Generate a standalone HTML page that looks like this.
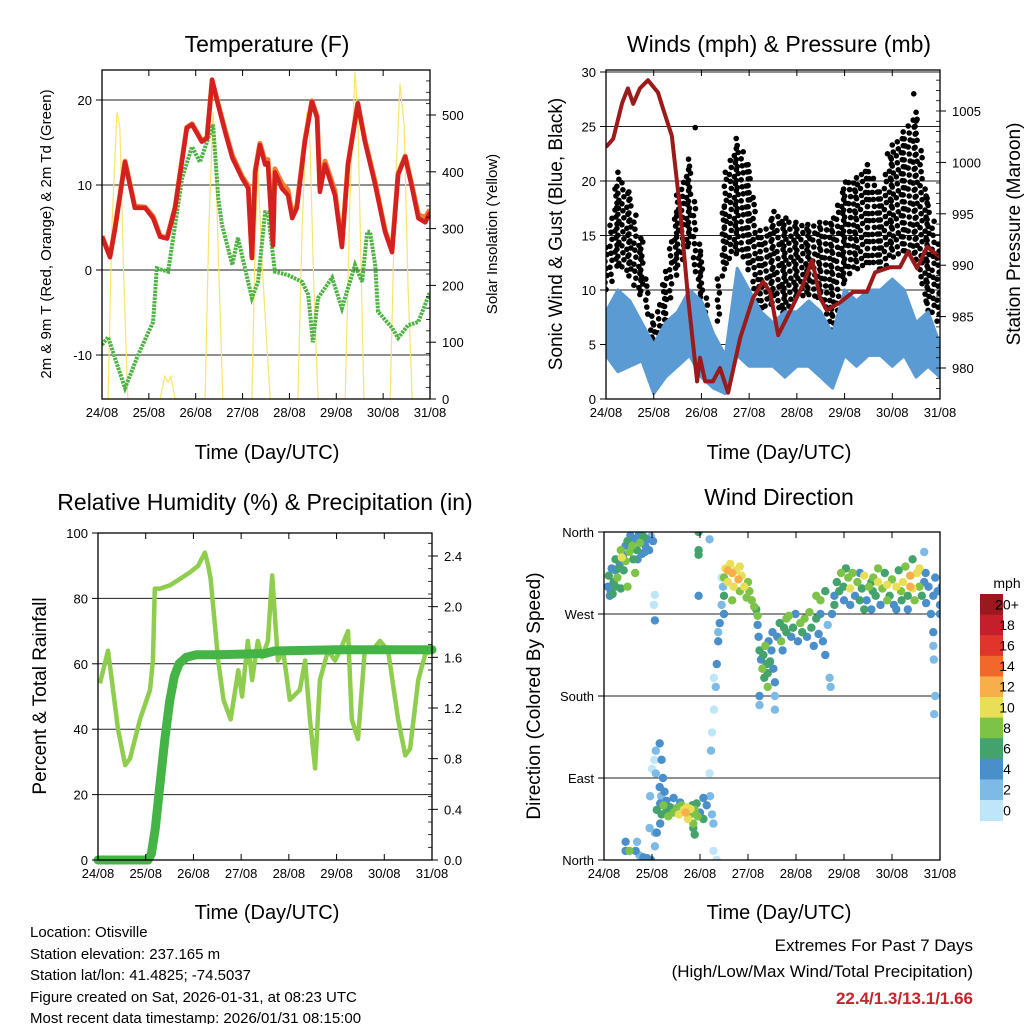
<!DOCTYPE html>
<html><head><meta charset="utf-8">
<style>
body{margin:0;background:#fff;}
svg text{font-family:"Liberation Sans",Arial,sans-serif;fill:#000;}
</style></head>
<body>
<svg id="s" width="1024" height="1024" viewBox="0 0 1024 1024" xmlns="http://www.w3.org/2000/svg">
<rect width="1024" height="1024" fill="#fff"/>
<g id="g"></g>
<text x="267" y="52" font-size="23" text-anchor="middle">Temperature (F)</text>
<text x="779" y="52" font-size="23" text-anchor="middle">Winds (mph) &amp; Pressure (mb)</text>
<text x="265" y="510" font-size="23" text-anchor="middle">Relative Humidity (%) &amp; Precipitation (in)</text>
<text x="779" y="505" font-size="23" text-anchor="middle">Wind Direction</text>
<text x="267" y="459" font-size="20" text-anchor="middle">Time (Day/UTC)</text>
<text x="779" y="459" font-size="20" text-anchor="middle">Time (Day/UTC)</text>
<text x="267" y="919" font-size="20" text-anchor="middle">Time (Day/UTC)</text>
<text x="779" y="919" font-size="20" text-anchor="middle">Time (Day/UTC)</text>
<text transform="translate(51,234) rotate(-90)" font-size="15" text-anchor="middle">2m &amp; 9m T (Red, Orange) &amp; 2m Td (Green)</text>
<text transform="translate(497,234) rotate(-90)" font-size="15" text-anchor="middle">Solar Insolation (Yellow)</text>
<text transform="translate(562,234) rotate(-90)" font-size="19" text-anchor="middle">Sonic Wind &amp; Gust (Blue, Black)</text>
<text transform="translate(1020,234) rotate(-90)" font-size="19" text-anchor="middle">Station Pressure (Maroon)</text>
<text transform="translate(46,696) rotate(-90)" font-size="19" text-anchor="middle">Percent &amp; Total Rainfall</text>
<text transform="translate(540,696) rotate(-90)" font-size="19" text-anchor="middle">Direction (Colored By Speed)</text>
<g font-size="15">
<text x="30" y="937">Location: Otisville</text>
<text x="30" y="959">Station elevation: 237.165 m</text>
<text x="30" y="980">Station lat/lon: 41.4825; -74.5037</text>
<text x="30" y="1002">Figure created on Sat, 2026-01-31, at 08:23 UTC</text>
<text x="30" y="1023">Most recent data timestamp: 2026/01/31 08:15:00</text>
</g>
<g text-anchor="end">
<text x="973" y="951" font-size="17">Extremes For Past 7 Days</text>
<text x="973" y="977" font-size="17">(High/Low/Max Wind/Total Precipitation)</text>
<text x="973" y="1004" font-size="17" font-weight="bold" style="fill:#c8232a">22.4/1.3/13.1/1.66</text>
</g>
</svg>
<script>
// ---------- DATA ----------
const dayLabels=["24/08","25/08","26/08","27/08","28/08","29/08","30/08","31/08"];
const tempTicks=[-10,0,10,20];
const solarTicks=[0,100,200,300,400,500];
const t2Time=[0,0.17,0.28,0.49,0.70,0.92,1.09,1.24,1.39,1.56,1.81,1.92,2.13,2.24,2.35,2.48,2.63,2.78,2.99,3.12,3.20,3.27,3.37,3.48,3.54,3.65,3.69,3.84,3.97,4.06,4.16,4.33,4.48,4.59,4.65,4.76,4.97,5.12,5.25,5.46,5.61,5.83,6.04,6.19,6.32,6.47,6.62,6.75,6.90,7.0];
const t2Val=[3.9,1.5,4.9,12.7,7.3,7.3,6.1,3.9,3.7,7.3,16.7,17.1,15.1,15.5,22.4,19.4,16.2,13.2,10.8,9.6,1.4,11.5,14.7,12.4,12.6,2.9,11.5,9.6,8.8,6.1,7.3,15.1,19.8,17.9,9.2,12.4,8.8,2.7,12.4,19.6,15.1,10.0,4.5,2.1,11.2,13.3,9.6,6.1,5.6,6.8];
const t9Val=[4.0,1.6,5.0,12.8,7.5,7.4,6.3,4.0,3.8,7.4,16.8,17.2,15.2,15.6,22.3,19.5,16.4,13.5,11.0,9.9,1.6,11.7,14.9,12.8,13.0,3.2,11.9,10.2,9.4,6.5,7.6,15.3,19.9,18.1,9.6,12.8,9.3,2.9,12.5,19.6,15.3,10.3,4.7,2.3,11.3,13.4,9.8,6.5,6.2,7.1];
const tdTime=[0,0.13,0.28,0.49,0.77,1.09,1.17,1.41,1.71,1.92,2.09,2.37,2.48,2.56,2.78,2.90,3.20,3.33,3.48,3.54,3.69,3.97,4.27,4.40,4.50,4.61,4.91,5.12,5.40,5.55,5.66,5.72,5.83,5.89,6.19,6.32,6.53,6.75,7.0];
const tdVal=[-8.8,-7.9,-10.4,-13.9,-10,-6.1,0.2,-0.2,10.8,14.5,12.7,17.1,8.5,5.3,0.6,3.8,-3.3,-1.4,6.8,6.8,-0.2,-0.6,-1.4,-2.9,-8.5,-3.3,-0.9,-4.5,0.6,-1.4,4.5,4.5,0.6,-4.9,-6.8,-8,-6.5,-6.1,-2.6];
const solarTime=[0,0.13,0.21,0.32,0.38,0.47,0.55,1.24,1.34,1.41,1.47,1.56,2.20,2.28,2.37,2.43,2.52,2.58,3.20,3.27,3.33,3.41,3.50,3.59,4.18,4.27,4.37,4.44,4.52,4.61,5.19,5.29,5.40,5.46,5.55,5.59,6.15,6.25,6.36,6.45,6.53,6.62,7.0];
const solarVal=[0,0,300,505,480,200,0,0,40,30,40,0,0,300,505,400,150,0,0,280,410,250,120,0,0,300,505,450,200,0,0,350,576,500,150,0,0,350,555,480,200,0,0];

const windTicks=[0,5,10,15,20,25,30];
const presTicks=[980,985,990,995,1000,1005];
const presTime=[0,0.15,0.34,0.46,0.57,0.71,0.88,1.09,1.19,1.38,1.55,1.72,1.91,1.97,2.08,2.24,2.39,2.56,2.81,3.08,3.29,3.44,3.61,3.92,4.13,4.32,4.49,4.63,4.91,5.18,5.47,5.64,5.95,6.16,6.33,6.52,6.73,6.86,7.0];
const presVal=[1001.5,1002.3,1005.8,1007.2,1005.7,1007.2,1008,1006.8,1005.3,1002.6,995.5,986.8,978.7,981,978.7,978.7,980,977.6,982.9,986.8,988.4,987.4,983.2,986.1,988.1,990.5,986.8,985.6,986.4,987.4,987.4,989.3,989.8,989.8,991.3,989.7,991.8,991.3,990.8];
const windTime=[0,0.25,0.5,0.75,1,1.25,1.5,1.75,2,2.25,2.5,2.75,3,3.25,3.5,3.75,4,4.25,4.5,4.75,5,5.25,5.5,5.75,6,6.25,6.5,6.75,7];
const windHi=[8,10,9,7,5,7,8,10,9,6,4,12,10,8,7,8,8,9,8,6,10,9,10,10,11,10,7,8,5];
const windLo=[4,2.5,3,3.5,0.5,2,3,4,2,1,0.5,4,3,3,3,2,3,3,2,1,4,3,4,4,3,4,2,3,2];
const gustHi=[13.9,20.8,19,14.4,6.8,11.7,18.7,22,13.2,4.3,20.8,23.9,21.5,14.8,17.2,16.6,16.2,16,16.2,16.6,19.9,20.3,21.5,19,23.3,24.5,26.3,18.4,13.9];
const gustLo=[9.5,12.3,11,9.3,4.3,6.8,11.7,13.9,7.1,3.1,12.3,13.5,11.7,7.7,8.6,7.4,9.3,9.3,8.6,6.1,10.7,11.7,12.3,11.7,12.9,13.5,12.3,8,6.8];
const gustOutTime=[1.87,6.45,0.26,5.9,6.5];
const gustOutVal=[24.9,28,17.5,22.5,25.5];

const rhTicks=[0,20,40,60,80,100];
const precipTicks=[0.0,0.4,0.8,1.2,1.6,2.0,2.4];
const rhTime=[0.04,0.21,0.29,0.42,0.57,0.67,0.88,1.09,1.15,1.19,1.30,1.51,1.72,1.93,2.10,2.24,2.31,2.36,2.52,2.63,2.78,2.94,3.02,3.14,3.23,3.35,3.44,3.56,3.65,3.77,3.88,4.02,4.23,4.34,4.44,4.55,4.65,4.82,4.97,5.07,5.24,5.32,5.45,5.59,5.74,5.91,6.08,6.29,6.44,6.54,6.71,6.86,7.0];
const rhVal=[54,64,55,40,29,31,43,52,61,83,83,84,86,88,90,94,90,86,61,49,43,58,50,67,55,67,62,67,87,61,64,49,52,61,43,28,55,64,61,64,70,43,37,64,64,67,64,43,32,34,55,63,64];
const prTime=[0,1.05,1.12,1.2,1.3,1.4,1.5,1.6,1.7,1.85,2.05,2.5,3.5,3.7,5,7];
const prVal=[0,0,0.05,0.25,0.6,0.95,1.25,1.45,1.55,1.6,1.62,1.62,1.63,1.65,1.66,1.66];

const dirLabels=["North","East","South","West","North"];
const dirTicks=[0,90,180,270,360];
const spdLabels=["0","2","4","6","8","10","12","14","16","18","20+"];
const spdColors=["#bfe6f8","#7dbbe6","#4a8fc9","#44a26c","#7cc348","#e8df57","#f8ae4a","#f0682b","#e0352b","#c41f2a","#9a181e"];
const dirPts=[[0.08,300,4],[0.10,312,6],[0.14,295,4],[0.16,320,4],[0.20,305,6],[0.24,318,4],[0.24,330,6],[0.28,310,8],[0.33,325,4],[0.35,340,8],[0.37,332,10],[0.41,318,6],[0.45,345,4],[0.45,328,8],[0.49,350,6],[0.53,338,8],[0.55,356,4],[0.59,345,8],[0.61,330,6],[0.65,352,4],[0.65,315,8],[0.69,340,6],[0.73,357,4],[0.75,348,8],[0.79,336,4],[0.82,355,6],[0.86,345,4],[0.90,352,4],[0.94,340,4],[0.98,355,2],[1.02,350,4],[0.24,300,6],[0.35,298,6],[0.49,300,8],[1.06,291,0],[1.06,263,4],[1.04,280,0],[0.12,290,4],[0.18,292,6],[0.3,320,6],[0.4,335,4],[0.7,330,4],[0.85,338,4],
[0.45,20,4],[0.45,10,4],[0.53,10,8],[0.66,10,4],[0.69,20,2],[0.74,5,2],[0.79,0,2],[0.82,3,4],[0.90,2,4],[0.98,0,4],[1.06,15,2],[1.06,30,2],[0.95,35,2],
[0.96,70,2],[1.0,100,0],[1.05,110,0],[1.08,120,2],[1.08,95,2],[1.16,128,4],[1.2,110,4],[1.23,90,4],[1.16,80,4],[1.19,70,2],[1.23,60,4],[1.26,75,4],[1.3,65,4],
[1.1,55,6],[1.17,62,4],[1.2,50,6],[1.24,60,8],[1.31,55,6],[1.34,48,8],[1.38,58,6],[1.45,52,8],[1.52,57,8],[1.56,50,10],[1.61,60,8],[1.66,55,10],[1.70,52,12],[1.73,58,10],[1.75,45,10],[1.80,50,8],[1.84,60,6],[1.89,55,8],[1.93,62,6],[2.0,52,4],[2.07,68,4],[2.14,60,4],[2.21,70,2],[2.25,50,2],[2.28,40,2],[1.86,35,6],[1.89,28,6],[1.86,40,8],[2.28,10,0],[2.35,0,0],[1.45,68,4],[1.17,40,4],[1.1,30,4],[1.59,63,4],[2.07,45,6],[1.8,56,10],[1.95,48,8],
[2.2,95,0],[2.23,120,2],[2.25,140,0],[2.29,165,0],[2.33,190,2],[2.35,215,4],[2.38,240,4],[2.41,260,4],[2.45,280,2],[2.48,300,2],[2.45,310,0],[2.5,270,4],[2.29,200,0],[2.38,250,2],
[1.97,360,6],[1.97,340,6],[1.97,335,6],[1.97,290,4],[2.2,352,2],
[2.5,310,8],[2.53,320,10],[2.58,305,10],[2.63,325,10],[2.67,315,12],[2.7,300,10],[2.75,318,10],[2.8,308,12],[2.83,295,8],[2.87,312,10],[2.92,300,10],[2.97,288,8],[3.0,305,8],[3.03,295,8],[3.08,285,8],[3.13,278,8],[3.17,275,6],[3.2,268,8],[2.5,290,6],[2.67,285,8],[2.83,322,10],[2.58,318,12],
[3.2,258,4],[3.22,245,4],[3.24,230,6],[3.27,220,4],[3.3,210,8],[3.32,225,6],[3.34,200,6],[3.36,235,8],[3.39,215,6],[3.41,205,6],[3.43,240,4],[3.46,218,6],[3.49,230,4],[3.51,250,4],[3.53,210,4],[3.56,195,4],[3.61,245,4],[3.66,260,6],[3.69,240,8],[3.72,230,4],[3.75,255,6],[3.8,265,8],[3.24,180,4],[3.24,170,2],[3.41,190,8],[3.56,180,2],[3.56,165,2],
[3.8,250,6],[3.85,268,8],[3.9,245,4],[3.94,255,6],[3.99,270,4],[4.04,240,4],[4.09,260,8],[4.13,250,6],[4.18,265,8],[4.23,245,4],[4.28,272,8],[4.32,255,6],[4.37,235,4],[4.42,265,6],[4.47,248,4],[4.51,270,4],[4.56,240,4],[4.61,225,4],[4.66,258,2],[4.7,200,2],[4.72,190,2],[4.75,270,4],[4.8,280,6],[4.61,295,6],[4.51,285,8],[4.42,290,8],
[4.8,290,4],[4.85,305,6],[4.9,295,6],[4.94,315,8],[4.99,300,6],[5.04,320,6],[5.09,310,8],[5.13,298,10],[5.18,315,8],[5.23,290,4],[5.28,305,8],[5.33,285,6],[5.37,298,6],[5.42,312,10],[5.47,285,4],[5.52,300,8],[5.57,275,4],[5.61,310,8],[5.66,290,6],[5.71,305,10],[5.76,280,4],[5.8,298,8],[5.85,315,6],[5.9,302,10],[5.95,290,6],[6.0,308,8],[6.04,280,4],[6.09,300,10],[6.14,318,6],[6.19,295,8],[6.23,305,10],[6.28,322,8],[6.33,290,6],[6.38,312,12],[6.43,298,10],[6.47,285,8],[6.52,315,10],[6.57,300,8],[6.62,290,6],[6.67,305,4],[6.71,282,4],[6.76,300,4],[6.81,270,4],[6.86,290,4],[6.9,310,4],[6.95,295,4],[7.0,280,4],[7.04,300,4],[5.71,320,8],[5.33,315,4],[5.13,280,4],[6.09,275,4],[6.33,275,4],[5.42,275,6],[5.57,305,6],[5.9,285,8],[6.57,320,10],[6.38,300,12],[6.43,330,6],[6.67,338,2],[6.86,250,4],[6.86,235,2],[6.9,180,2],[6.88,160,2],[6.87,220,2],[7.0,270,4],[5.0,285,4],[5.6,295,6],[6.2,285,6],[6.7,315,4]];

// ---------- HELPERS ----------
const NS="http://www.w3.org/2000/svg";
const G=document.getElementById('g');
function mk(tag,attrs,parent){const e=document.createElementNS(NS,tag);for(const k in attrs)e.setAttribute(k,attrs[k]);(parent||G).appendChild(e);return e;}
function lin(d0,d1,r0,r1){return v=>r0+(v-d0)/(d1-d0)*(r1-r0);}
function pathOf(xs,ys,xf,yf){return xs.map((t,i)=>(i?'L':'M')+xf(t).toFixed(1)+','+yf(ys[i]).toFixed(1)).join('');}

function frame(P,name){
  const r=mk('rect',{x:P.x0,y:P.y0,width:P.x1-P.x0,height:P.y1-P.y0,fill:'none',stroke:'#000','stroke-width':1.3});
  
  
  dayLabels.forEach((lb,i)=>{
    const x=P.xf(i);
    mk('line',{x1:x,x2:x,y1:P.y1,y2:P.y1-6,stroke:'#000'});
    mk('line',{x1:x,x2:x,y1:P.y0,y2:P.y0+6,stroke:'#000'});
    const t=mk('text',{x:x,y:P.y1+18,'font-size':13,'text-anchor':'middle'});
    t.textContent=lb;
    
    
  });
}
function grid(P,ticks,yf){ticks.forEach(v=>{const y=yf(v);if(y>P.y0+1&&y<P.y1-1)mk('line',{x1:P.x0,x2:P.x1,y1:y,y2:y,stroke:'#222','stroke-width':1});});}
function leftTicks(P,ticks,yf,labels,name){ticks.forEach((v,i)=>{const y=yf(v);mk('line',{x1:P.x0-6,x2:P.x0,y1:y,y2:y,stroke:'#000'});
  const t=mk('text',{x:P.x0-10,y:y+5,'font-size':13,'text-anchor':'end'});t.textContent=labels?labels[i]:v;
  
  });}
function rightTicks(P,ticks,yf,fmt,name,minorStep){
  if(minorStep){const lo=yf.inv(P.y1),hi=yf.inv(P.y0);const a=Math.min(lo,hi),b=Math.max(lo,hi);
    for(let v=Math.ceil(a/minorStep)*minorStep;v<=b;v+=minorStep){const y=yf(v);mk('line',{x1:P.x1,x2:P.x1-4,y1:y,y2:y,stroke:'#000','stroke-width':0.8});}}
  ticks.forEach(v=>{const y=yf(v);mk('line',{x1:P.x1,x2:P.x1+6,y1:y,y2:y,stroke:'#000'});
  const t=mk('text',{x:P.x1+12,y:y+5,'font-size':13});t.textContent=fmt(v);
  
  });}
function clip(P,id){const c=mk('clipPath',{id:id});mk('rect',{x:P.x0,y:P.y0,width:P.x1-P.x0,height:P.y1-P.y0},c);return 'url(#'+id+')';}

// ---------- PANEL 1: TEMPERATURE ----------
const P1={x0:102,x1:430,y0:70,y1:399};P1.xf=lin(0,7,P1.x0,P1.x1);
const tY=lin(0,20,270,100);
const sY=lin(0,500,399,115);sY.inv=lin(399,115,0,500);
grid(P1,tempTicks,tY);
const c1=clip(P1,'c1');
const g1=mk('g',{'clip-path':c1});
let e;
e=mk('path',{d:pathOf(solarTime,solarVal,P1.xf,sY),fill:'none',stroke:'#fbe36b','stroke-width':1.2},g1);


e=mk('path',{d:pathOf(tdTime,tdVal,P1.xf,tY),fill:'none',stroke:'#4db342','stroke-width':4,'stroke-dasharray':'2.5 1'},g1);


e=mk('path',{d:pathOf(t2Time,t9Val,P1.xf,tY),fill:'none',stroke:'#f07d2a','stroke-width':5,'stroke-linejoin':'round'},g1);


e=mk('path',{d:pathOf(t2Time,t2Val,P1.xf,tY),fill:'none',stroke:'#d42020','stroke-width':4.5,'stroke-linejoin':'round'},g1);


frame(P1,'temp');
leftTicks(P1,tempTicks,tY,null,'temp');
rightTicks(P1,solarTicks,sY,v=>v,'solar',20);

// ---------- PANEL 2: WINDS ----------
const P2={x0:606,x1:940,y0:70,y1:399};P2.xf=lin(0,7,P2.x0,P2.x1);
const wY=lin(0,30,399,72);
const pY=lin(980,1005,368,111);pY.inv=lin(368,111,980,1005);
grid(P2,windTicks,wY);
const c2=clip(P2,'c2');
const g2=mk('g',{'clip-path':c2});
const gustG=mk('g',{fill:'#000'},g2);


for(let i=0;i<windTime.length-1;i++){
  const xa=P2.xf(windTime[i]),xb=P2.xf(windTime[i+1]);
  let k=0;
  for(let x=xa;x<xb;x+=5,k++){
    const f=(x-xa)/(xb-xa);
    const hi=wY(gustHi[i]+(gustHi[i+1]-gustHi[i])*f),lo=wY(gustLo[i]+(gustLo[i+1]-gustLo[i])*f);
    for(let y=hi+(k%3)*2.3;y<=lo;y+=7){mk('circle',{cx:(x+((Math.round(y)%3)-1)).toFixed(1),cy:y.toFixed(1),r:2.8},gustG);}
  }
}
gustOutTime.forEach((t,i)=>{mk('circle',{cx:P2.xf(t),cy:wY(gustOutVal[i]),r:2.8},gustG);});
let band='';windTime.forEach((t,i)=>{band+=(i?'L':'M')+P2.xf(t).toFixed(1)+','+wY(windHi[i]).toFixed(1);});
for(let i=windTime.length-1;i>=0;i--)band+='L'+P2.xf(windTime[i]).toFixed(1)+','+wY(windLo[i]).toFixed(1);
e=mk('path',{d:band+'Z',fill:'#5a9bd3',stroke:'#5a9bd3','stroke-width':3,'stroke-linejoin':'round'},g2);


e=mk('path',{d:pathOf(presTime,presVal,P2.xf,pY),fill:'none',stroke:'#9b1a1a','stroke-width':4,'stroke-linejoin':'round'},g2);


frame(P2,'wind');
leftTicks(P2,windTicks,wY,null,'wind');
rightTicks(P2,presTicks,pY,v=>v,'pressure',1);

// ---------- PANEL 3: RH ----------
const P3={x0:98,x1:432,y0:533,y1:860};P3.xf=lin(0,7,P3.x0,P3.x1);
const rY=lin(0,100,860,533);
const prY=lin(0,2.4,860,556);prY.inv=lin(860,556,0,2.4);
grid(P3,rhTicks,rY);
const c3=clip(P3,'c3');
const g3=mk('g',{'clip-path':c3});
e=mk('path',{d:pathOf(rhTime,rhVal,P3.xf,rY),fill:'none',stroke:'#8fcd4f','stroke-width':4.5,'stroke-linejoin':'round'},g3);


e=mk('path',{d:pathOf(prTime,prVal,P3.xf,prY),fill:'none',stroke:'#45b446','stroke-width':9,'stroke-linecap':'round','stroke-linejoin':'round'},G);


frame(P3,'rh');
leftTicks(P3,rhTicks,rY,null,'rh');
rightTicks(P3,precipTicks,prY,v=>v.toFixed(1),'precip',0.1);

// ---------- PANEL 4: WIND DIRECTION ----------
const P4={x0:604,x1:940,y0:532,y1:860};P4.xf=lin(0,7,P4.x0,P4.x1);
const dY=lin(0,360,860,532);
grid(P4,dirTicks,dY);
const c4=clip(P4,'c4');
const g4=mk('g',{'clip-path':c4});


dirPts.slice().sort((a,b)=>a[2]-b[2]).forEach(p=>{
  const ci=Math.min(10,Math.floor(p[2]/2));
  mk('circle',{cx:P4.xf(p[0]).toFixed(1),cy:dY(p[1]).toFixed(1),r:4.2,fill:spdColors[ci]},g4);
});
frame(P4,'dir');
leftTicks(P4,dirTicks,dY,dirLabels,'dir');

// colorbar
const cb=mk('g',{});


const cbTop=594,cbH=20.6;
const mt=mk('text',{x:1007,y:588,'font-size':14,'text-anchor':'middle'},cb);mt.textContent='mph';
for(let i=0;i<11;i++){
  const idx=10-i,y=cbTop+i*cbH;
  mk('rect',{x:980,y:y,width:23,height:cbH+0.5,fill:spdColors[idx]},cb);
  const t=mk('text',{x:1007,y:y+cbH/2+5,'font-size':14,'text-anchor':'middle'},cb);t.textContent=spdLabels[idx];
}
</script>
</body></html>
